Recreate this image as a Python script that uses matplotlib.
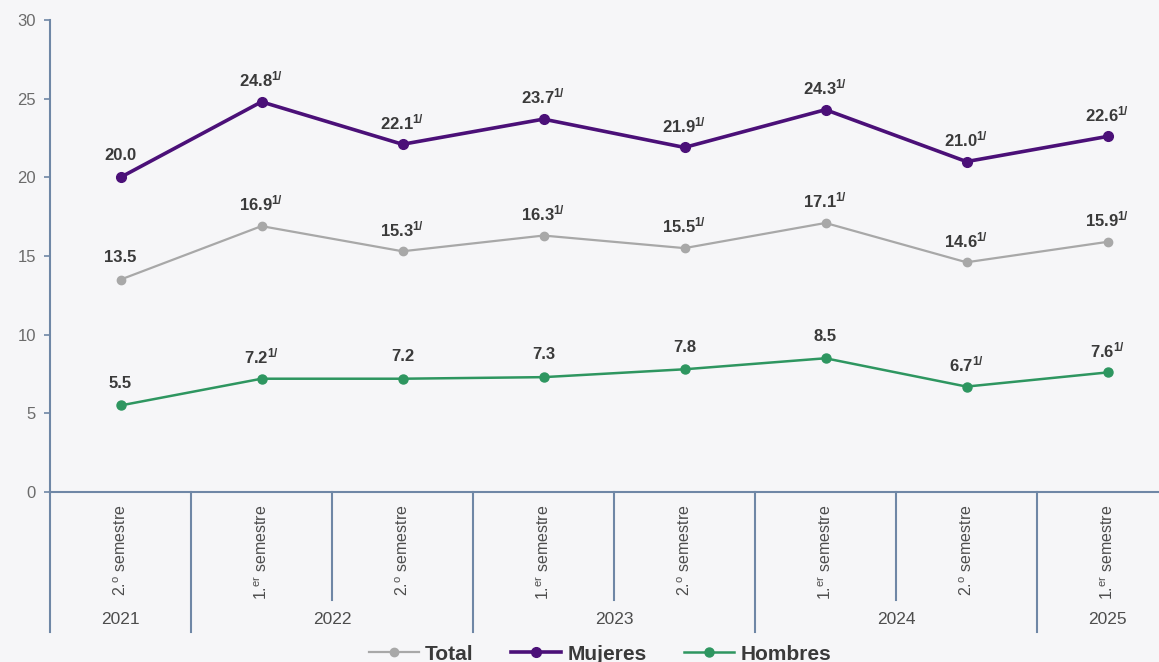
import matplotlib
matplotlib.use("Agg")
import matplotlib.pyplot as plt
import matplotlib.transforms as mtransforms
import numpy as np

plt.rcParams['font.family'] = ['Liberation Sans', 'DejaVu Sans']
plt.rcParams['mathtext.fontset'] = 'custom'
plt.rcParams['mathtext.rm'] = 'Liberation Sans'
plt.rcParams['mathtext.bf'] = 'Liberation Sans:bold'
plt.rcParams['mathtext.it'] = 'Liberation Sans:italic'

# data
semestres = [r"2.$^{\rm o}$ semestre", r"1.$^{\rm er}$ semestre"] * 4
years = ["2021", "2022", "2023", "2024", "2025"]
year_sizes = [1, 2, 2, 2, 1]

total = [13.5, 16.9, 15.3, 16.3, 15.5, 17.1, 14.6, 15.9]
mujeres = [20.0, 24.8, 22.1, 23.7, 21.9, 24.3, 21.0, 22.6]
hombres = [5.5, 7.2, 7.2, 7.3, 7.8, 8.5, 6.7, 7.6]

total_prelim = [False, True, True, True, True, True, True, True]
mujeres_prelim = [False, True, True, True, True, True, True, True]
hombres_prelim = [False, True, False, False, False, False, True, True]

bg = '#f6f6f8'
axis_col = '#6f87a6'
label_col = '#3a3a3a'

fig = plt.figure(figsize=(11.59, 6.62), dpi=100, facecolor=bg)
ax = fig.add_axes([50 / 1159, 170 / 662, 1128 / 1159, 472 / 662])
ax.set_facecolor(bg)

x = np.arange(len(total))

series = [
    ("Total", total, total_prelim, '#a8a8a8', 1.6, 6),
    ("Mujeres", mujeres, mujeres_prelim, '#4b1078', 2.6, 7),
    ("Hombres", hombres, hombres_prelim, '#2e9660', 1.8, 6.5),
]

for name, vals, prelim, col, lw, ms in series:
    ax.plot(x, vals, color=col, lw=lw, marker='o', ms=ms, label=name)
    for xi, v, p in zip(x, vals, prelim):
        txt = f"{v:.1f}" + (r"$^{\mathbf{1/}}$" if p else "")
        ax.annotate(txt, (xi, v), xytext=(0, 16), textcoords='offset points',
                    ha='center', va='center', fontsize=12, fontweight='bold',
                    color=label_col)

ax.set_xlim(-0.5, len(total) - 0.5)
ax.set_ylim(0, 30)
ax.set_yticks([0, 5, 10, 15, 20, 25, 30])
ax.tick_params(axis='y', colors='#6b6b6b', labelsize=12, length=4, width=1.2,
               color=axis_col, pad=6)
ax.set_xticks([])
for s in ['top', 'right']:
    ax.spines[s].set_visible(False)
for s in ['left', 'bottom']:
    ax.spines[s].set_color(axis_col)
    ax.spines[s].set_linewidth(1.5)

trans = mtransforms.blended_transform_factory(ax.transData, ax.transAxes)

# semester labels
for xi, lab in zip(x, semestres):
    ax.text(xi, -0.027, lab, transform=trans, rotation=90, ha='center', va='top',
            fontsize=11.5, color='#4d4d4d')

# separators and year labels
start = 0
bounds = [0]
for n in year_sizes:
    start += n
    bounds.append(start)
for b in range(len(total) + 1):
    long_line = b in bounds
    y_end = -0.297 if long_line else -0.229
    ax.plot([b - 0.5, b - 0.5], [0, y_end], transform=trans, color=axis_col,
            lw=1.5, clip_on=False)
for yr, b0, b1 in zip(years, bounds[:-1], bounds[1:]):
    xc = (b0 + b1 - 1) / 2
    ax.text(xc, -0.271, yr, transform=trans, ha='center', va='center',
            fontsize=12.5, color='#4d4d4d')

leg = fig.legend(loc='center', bbox_to_anchor=(600 / 1159, 8 / 662), ncol=3,
                 frameon=False, handlelength=2.4, handletextpad=0.3,
                 columnspacing=1.8, prop={'weight': 'bold', 'size': 15})
for t in leg.get_texts():
    t.set_color(label_col)

fig.savefig("out.png", dpi=100, facecolor=bg)
